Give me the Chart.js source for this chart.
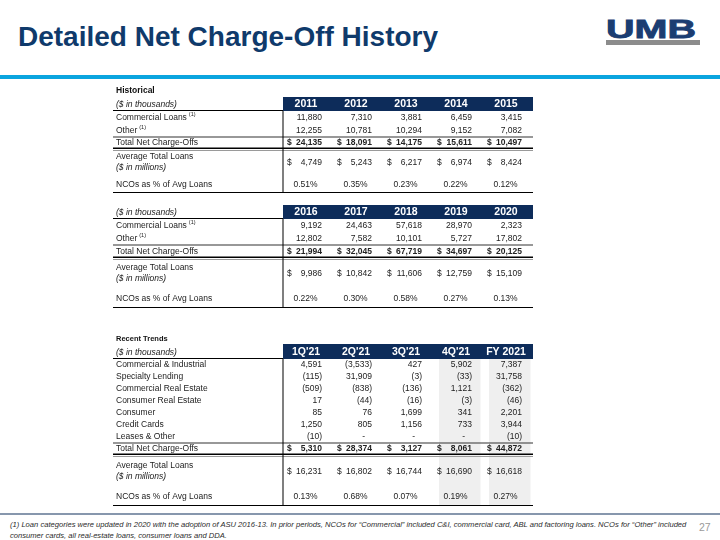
<!DOCTYPE html>
<html>
<head>
<meta charset="utf-8">
<script src="https://cdn.jsdelivr.net/npm/chart.js@4.4.0/dist/chart.umd.min.js"></script>
<style>
  html, body { margin:0; padding:0; width:720px; height:540px; background:#ffffff; overflow:hidden; }
  body { position:relative; font-family:"Liberation Sans", Arial, sans-serif; }
  #title { position:absolute; left:18px; top:23px; font:bold 28px/28px "Liberation Sans", Arial, sans-serif; color:#0f3a6b; white-space:nowrap; }
  #logo { position:absolute; left:606px; top:17px; font:bold 25px/25px "Liberation Sans", Arial, sans-serif; color:#1b3d72; -webkit-text-stroke:0.8px #1b3d72; transform:scaleX(1.58); transform-origin:0 0; white-space:nowrap; }
  #logobar { position:absolute; left:606px; top:40px; width:94px; height:5px; background:#8c8c8c; }
  #rule { position:absolute; left:0; top:75px; width:720px; height:4px; background:#0aa5df; }
  .tbl { position:absolute; left:113px; }
  #fline { position:absolute; left:0; top:513px; width:720px; height:2px; background:#8797ad; }
  #fnote { position:absolute; left:10px; top:519px; font:italic 7.6px/11px "Liberation Sans", Arial, sans-serif; color:#2b2b2b; white-space:nowrap; }
  #pnum { position:absolute; left:699px; top:522px; font:10.5px/10.5px "Liberation Sans", Arial, sans-serif; color:#9a9a9a; }
</style>
</head>
<body>
<div id="title">Detailed Net Charge-Off History</div>
<div id="logo">UMB</div>
<div id="logobar"></div>
<div id="rule"></div>

<div class="tbl" style="top:85px;width:422px;height:108px;"><canvas id="t1" width="422" height="108"></canvas></div>
<div class="tbl" style="top:205px;width:422px;height:103px;"><canvas id="t2" width="422" height="103"></canvas></div>
<div class="tbl" style="top:334px;width:422px;height:172px;"><canvas id="t3" width="422" height="172"></canvas></div>

<div id="fline"></div>
<div id="fnote">(1) Loan categories were updated in 2020 with the adoption of ASU 2016-13. In prior periods, NCOs for “Commercial” included C&amp;I, commercial card, ABL and factoring loans. NCOs for “Other” included<br>consumer cards, all real-estate loans, consumer loans and DDA.</div>
<div id="pnum">27</div>

<script>
// ================= DATA =================
// Historical, 2011-2015
const yearsA          = ['2011', '2012', '2013', '2014', '2015'];
const commercialA     = [11880, 7310, 3881, 6459, 3415];
const otherA          = [12255, 10781, 10294, 9152, 7082];
const totalA          = [24135, 18091, 14175, 15611, 10497];
const avgLoansA       = [4749, 5243, 6217, 6974, 8424];
const ncoPctA         = [0.51, 0.35, 0.23, 0.22, 0.12];

// Historical, 2016-2020
const yearsB          = ['2016', '2017', '2018', '2019', '2020'];
const commercialB     = [9192, 24463, 57618, 28970, 2323];
const otherB          = [12802, 7582, 10101, 5727, 17802];
const totalB          = [21994, 32045, 67719, 34697, 20125];
const avgLoansB       = [9986, 10842, 11606, 12759, 15109];
const ncoPctB         = [0.22, 0.30, 0.58, 0.27, 0.13];

// Recent trends, 2021
const periods         = ["1Q'21", "2Q'21", "3Q'21", "4Q'21", "FY 2021"];
const commIndustrial  = [4591, -3533, 427, 5902, 7387];
const specialtyLend   = [-115, 31909, -3, -33, 31758];
const commRealEstate  = [-509, -838, -136, 1121, -362];
const consRealEstate  = [17, -44, -16, -3, -46];
const consumer        = [85, 76, 1699, 341, 2201];
const creditCards     = [1250, 805, 1156, 733, 3944];
const leasesOther     = [-10, 0, 0, 0, -10];
const totalTrend      = [5310, 28374, 3127, 8061, 44872];
const avgLoansTrend   = [16231, 16802, 16744, 16690, 16618];
const ncoPctTrend     = [0.13, 0.68, 0.07, 0.19, 0.27];

// ================= LAYOUT / STYLE =================
const NAVY = '#0d2c5a';
const TEXT = '#222222';
const FONT = '"Liberation Sans", Arial, sans-serif';
const LABEL_UNITS = 170 / 50;   // width of label column in data-column units

function fmtNum(v) {
  if (v === 0) return '-';
  const s = Math.abs(v).toLocaleString('en-US');
  return v < 0 ? '(' + s + ')' : s;
}
function fmtPct(v) { return v.toFixed(2) + '%'; }

const tablePlugin = {
  id: 'tableDraw',
  afterDraw(chart, args, spec) {
    const ctx = chart.ctx;
    const xs = chart.scales.x, ys = chart.scales.y;
    const X = v => xs.getPixelForValue(v);
    const Y = v => ys.getPixelForValue(v);
    const n = spec.headers.length;
    const left = X(-LABEL_UNITS), sep = X(0), right = X(n);
    const W = X(1) - X(0);
    ctx.save();
    ctx.textBaseline = 'middle';

    let acc = 0;
    const rows = spec.rows.map(r => { const o = Object.assign({}, r, { y0: acc, y1: acc + r.h }); acc += r.h; return o; });
    const header = rows.find(r => r.kind === 'header');
    const last = rows[rows.length - 1];

    // column shading
    (spec.shade || []).forEach(i => {
      ctx.fillStyle = '#efefef';
      const a = X(i) + W * 0.12, b = X(i + 1) - W * 0.05;
      ctx.fillRect(a, Y(header.y1), b - a, Y(last.y1) - Y(header.y1));
    });

    rows.forEach(r => {
      const top = Y(r.y0), bot = Y(r.y1), mid = (top + bot) / 2;
      if (r.kind === 'title') {
        ctx.fillStyle = '#111';
        ctx.font = 'bold ' + r.size + 'px ' + FONT;
        ctx.textAlign = 'left';
        ctx.fillText(r.label, left + 3, mid);
        return;
      }
      if (r.kind === 'header') {
        ctx.fillStyle = NAVY;
        ctx.fillRect(sep, top, right - sep, bot - top);
        ctx.fillStyle = '#ffffff';
        ctx.font = 'bold 10.5px ' + FONT;
        ctx.textAlign = 'center';
        spec.headers.forEach((h, i) => ctx.fillText(h, X(i + 0.5) - W * 0.04, mid + 0.5));
        ctx.fillStyle = TEXT;
        ctx.font = 'italic 8.5px ' + FONT;
        ctx.textAlign = 'left';
        ctx.fillText('($ in thousands)', left + 3, mid + 1);
        ctx.fillStyle = '#000';
        ctx.fillRect(left, bot - 1, sep - left, 1);
        return;
      }
      // label
      ctx.fillStyle = TEXT;
      ctx.textAlign = 'left';
      if (r.sub) {
        ctx.font = '8.5px ' + FONT;
        ctx.fillText(r.label, left + 3, mid - 5.5);
        ctx.font = 'italic 8.5px ' + FONT;
        ctx.fillText(r.sub, left + 3, mid + 5.5);
      } else {
        ctx.font = '8.5px ' + FONT;
        ctx.fillText(r.label, left + 3, mid);
        if (r.sup) {
          const w = ctx.measureText(r.label).width;
          ctx.font = '5.5px ' + FONT;
          ctx.fillText(r.sup, left + 3 + w + 2, mid - 3);
        }
      }
      // values
      r.values.forEach((v, i) => {
        const L = X(i);
        ctx.fillStyle = TEXT;
        ctx.font = (r.bold ? 'bold ' : '') + '8.5px ' + FONT;
        if (r.fmt === 'pct') {
          ctx.textAlign = 'center';
          ctx.fillText(fmtPct(v), L + W * 0.45, mid);
        } else if (r.fmt === 'acct') {
          ctx.textAlign = 'left';
          ctx.fillText('$', L + W * 0.08, mid);
          ctx.textAlign = 'right';
          ctx.fillText(fmtNum(v), L + W * 0.78, mid);
        } else {
          ctx.textAlign = 'right';
          if (v === 0) ctx.fillText('-', L + W * 0.64, mid);
          else ctx.fillText(fmtNum(v), L + W * 0.78, mid);
        }
      });
      // lines
      if (r.lineTop) {
        ctx.fillStyle = '#333';
        ctx.fillRect(left, top - 0.5, right - left, 1);
      }
      if (r.double) {
        ctx.fillStyle = '#000';
        ctx.fillRect(left, bot - 1.5, right - left, 1.5);
        ctx.fillStyle = '#9a9a9a';
        ctx.fillRect(left, bot + 1, right - left, 1);
      }
    });

    // vertical separator & bottom rule
    ctx.fillStyle = '#000';
    ctx.fillRect(sep - 0.5, Y(header.y1), 1, Y(last.y1) - Y(header.y1));
    ctx.fillRect(left, Y(last.y1) - 1, right - left, 1);
    ctx.restore();
  }
};

function makeTable(id, headers, rows, shade) {
  const canvas = document.getElementById(id);
  const hPx = canvas.height;
  const pts = [];
  let acc = 0;
  rows.forEach(r => {
    if (r.values) r.values.forEach((v, i) => pts.push({ x: i + 0.5, y: acc + r.h / 2 }));
    acc += r.h;
  });
  return new Chart(canvas, {
    type: 'scatter',
    data: { datasets: [{ data: pts, pointRadius: 0, pointHoverRadius: 0 }] },
    options: {
      responsive: false, animation: false, events: [],
      layout: { padding: 0 },
      plugins: {
        legend: { display: false }, tooltip: { enabled: false }, title: { display: false },
        tableDraw: { headers: headers, rows: rows, shade: shade }
      },
      scales: {
        x: { type: 'linear', min: -LABEL_UNITS, max: headers.length + 0.04, display: false },
        y: { type: 'linear', min: 0, max: hPx, reverse: true, display: false }
      }
    },
    plugins: [tablePlugin]
  });
}

makeTable('t1', yearsA, [
  { kind: 'title', label: 'Historical', size: 8.5, h: 12 },
  { kind: 'header', h: 14 },
  { label: 'Commercial Loans', sup: '(1)', values: commercialA, fmt: 'num', h: 13 },
  { label: 'Other', sup: '(1)', values: otherA, fmt: 'num', h: 13 },
  { label: 'Total Net Charge-Offs', values: totalA, fmt: 'acct', bold: true, h: 12, lineTop: true, double: true },
  { label: 'Average Total Loans', sub: '($ in millions)', values: avgLoansA, fmt: 'acct', h: 27 },
  { label: 'NCOs as % of Avg Loans', values: ncoPctA, fmt: 'pct', h: 17 }
], []);

makeTable('t2', yearsB, [
  { kind: 'header', h: 14 },
  { label: 'Commercial Loans', sup: '(1)', values: commercialB, fmt: 'num', h: 13 },
  { label: 'Other', sup: '(1)', values: otherB, fmt: 'num', h: 13 },
  { label: 'Total Net Charge-Offs', values: totalB, fmt: 'acct', bold: true, h: 13, lineTop: true, double: true },
  { label: 'Average Total Loans', sub: '($ in millions)', values: avgLoansB, fmt: 'acct', h: 31 },
  { label: 'NCOs as % of Avg Loans', values: ncoPctB, fmt: 'pct', h: 19 }
], []);

makeTable('t3', periods, [
  { kind: 'title', label: 'Recent Trends', size: 7.5, h: 10 },
  { kind: 'header', h: 15 },
  { label: 'Commercial & Industrial', values: commIndustrial, fmt: 'num', h: 12 },
  { label: 'Specialty Lending', values: specialtyLend, fmt: 'num', h: 12 },
  { label: 'Commercial Real Estate', values: commRealEstate, fmt: 'num', h: 12 },
  { label: 'Consumer Real Estate', values: consRealEstate, fmt: 'num', h: 12 },
  { label: 'Consumer', values: consumer, fmt: 'num', h: 12 },
  { label: 'Credit Cards', values: creditCards, fmt: 'num', h: 12 },
  { label: 'Leases & Other', values: leasesOther, fmt: 'num', h: 12 },
  { label: 'Total Net Charge-Offs', values: totalTrend, fmt: 'acct', bold: true, h: 12, lineTop: true, double: true },
  { label: 'Average Total Loans', sub: '($ in millions)', values: avgLoansTrend, fmt: 'acct', h: 33 },
  { label: 'NCOs as % of Avg Loans', values: ncoPctTrend, fmt: 'pct', h: 18 }
], [3, 4]);
</script>
</body>
</html>
